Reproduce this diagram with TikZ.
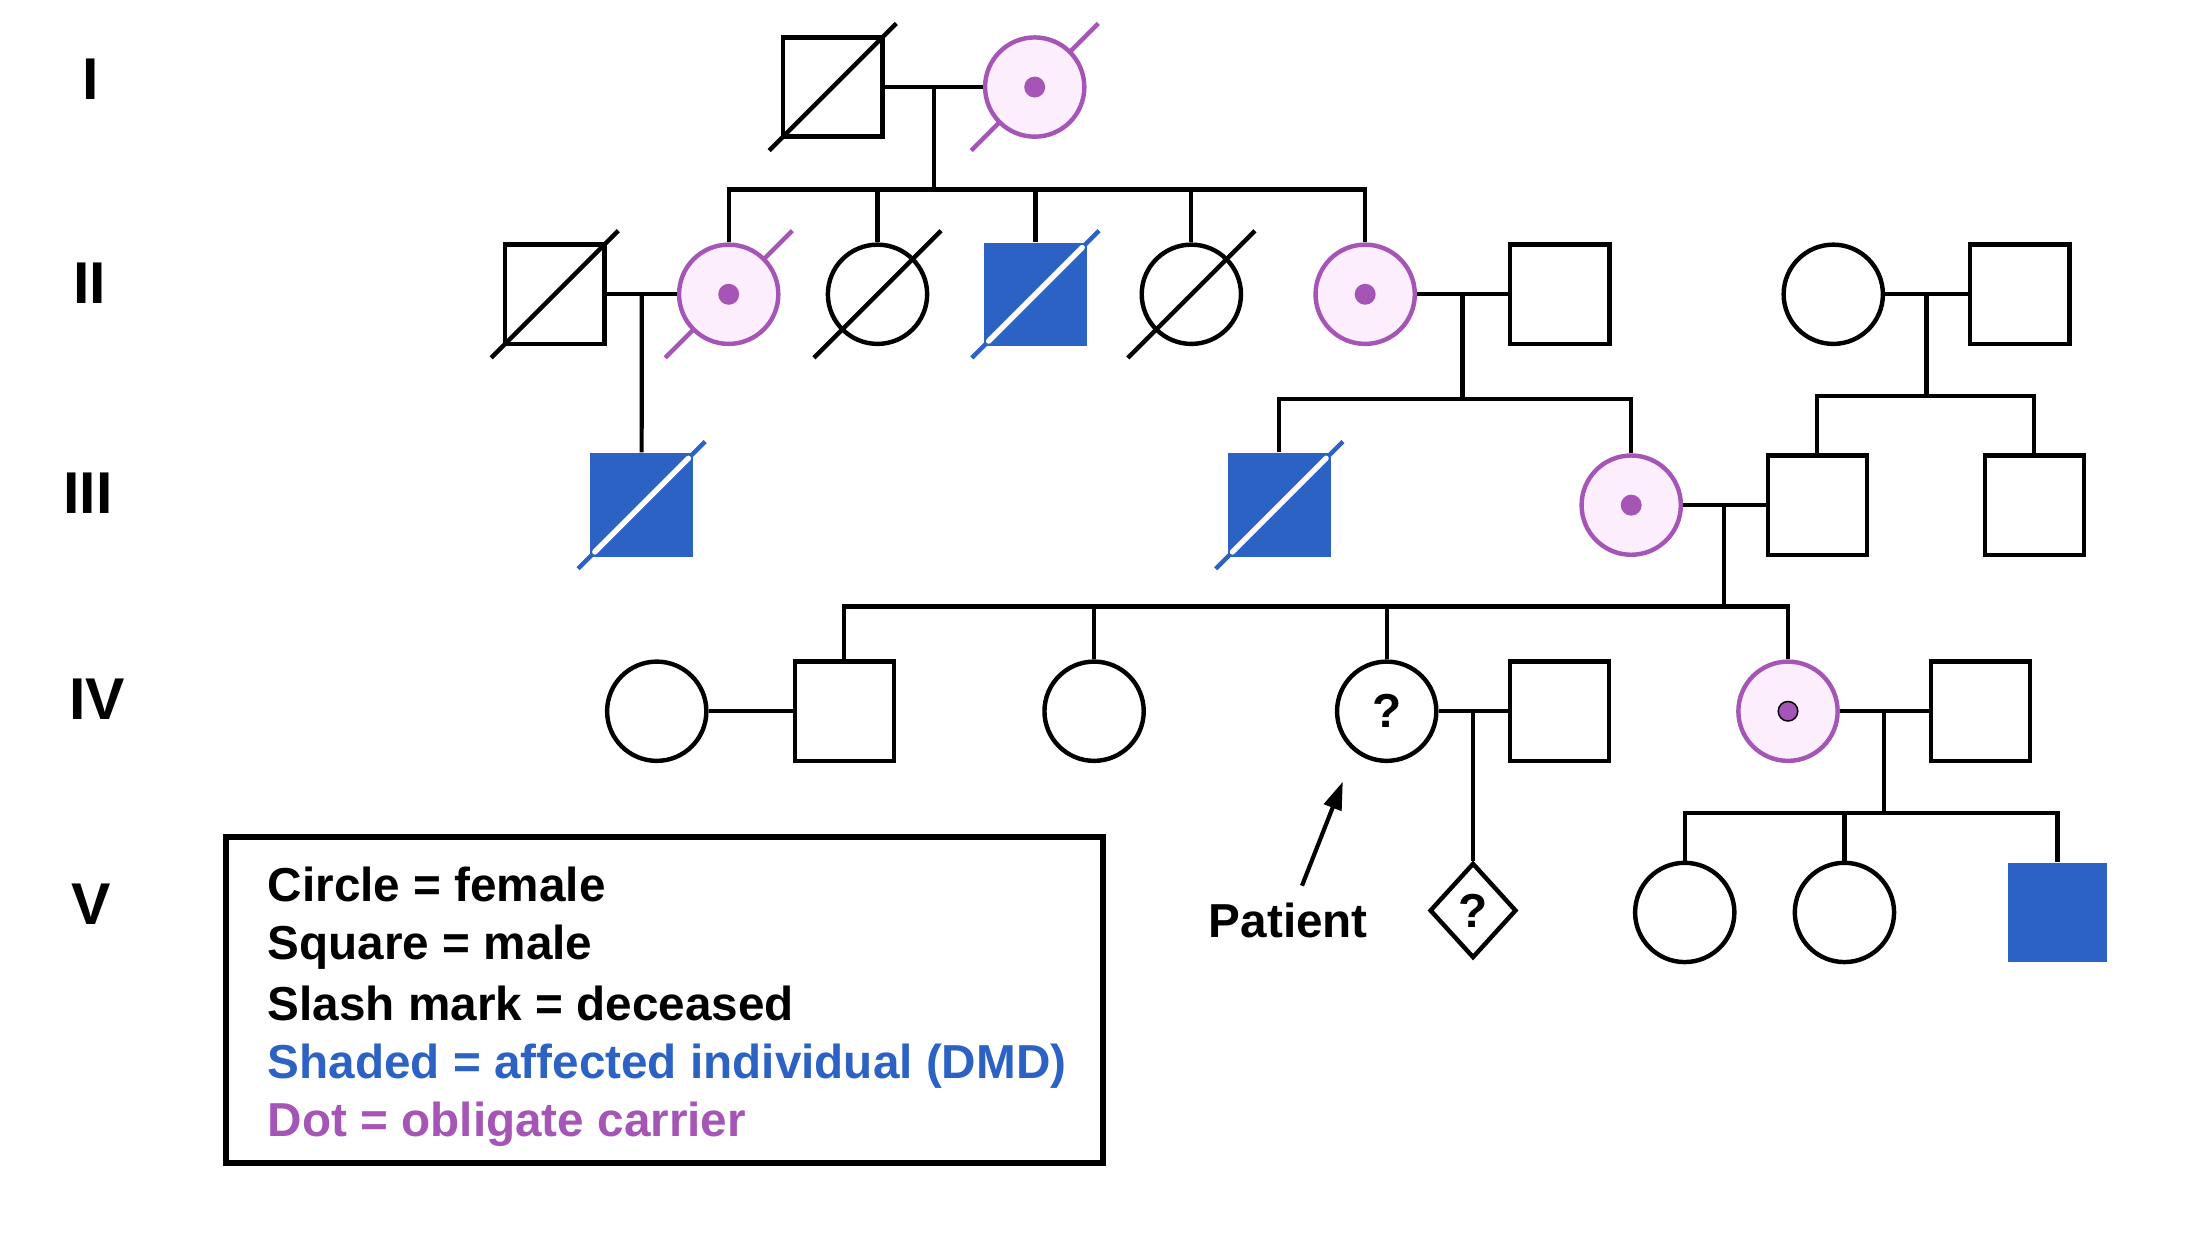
\documentclass[tikz,border=0pt]{standalone}
\usepackage{fontspec}
\setmainfont{Liberation Sans}
\usetikzlibrary{calc,shapes.geometric,arrows.meta,backgrounds}
\definecolor{dmdblue}{RGB}{43,98,196}
\definecolor{carrierpurple}{RGB}{165,85,181}
\definecolor{carrierpink}{RGB}{252,238,252}
\def\deadmark[#1](#2)(#3){\draw[#1] ($(#2)+(-#3,#3)$) -- ($(#2)+(#3,-#3)$);}
\def\carrierdot(#1){\fill[carrierpurple] (#1) circle (0.075cm);}
\tikzset{
	male/.style={draw, line width=0.9pt, minimum size=0.71cm, inner sep=0pt},
	female/.style={male, circle},
	carrier/.style={female, draw=carrierpurple, fill=carrierpink},
	affected/.style={fill=dmdblue, minimum size=0.74cm, inner sep=0pt},
	unknown/.style={draw, diamond, line width=0.9pt, minimum width=0.62cm, minimum height=0.68cm, inner sep=0pt},
	link/.style={line width=0.85pt},
	gen/.style={font=\fontsize{12}{14}\selectfont\bfseries},
	txt/.style={font=\fontsize{9.7}{11.6}\selectfont\bfseries},
}

\begin{document}
\begin{tikzpicture}[x=0.01cm, y=-0.01cm]
			%%%%% START %%%%%
			\useasboundingbox (0,0) rectangle (1568,900);
			
			% generations
			\node[gen] (gI) at (65,56.6) {I};
			\node[gen] (gII) at (64,203) {II};
			\node[gen] (gIII) at (63,353) {III};
			\node[gen] (gIV) at (69.5,500.5) {IV};
			\node[gen] (gV) at (65,647) {V};
			
			% I
			\node[male] (I1) at (596,62.3) {};
			\node[carrier] (I2) at (740.5,62.3) {};
			
			% II
			\node[male] (II1) at (397,210.6) {};
			\node[carrier] (II2) at (521.5,210.6) {};
			\node[female] (II3) at (628,210.6) {};
			\node[affected] (II4) at (741,210.6) {};
			\node[female] (II5) at (852.6,210.6) {};
			\node[carrier] (II6) at (977,210.6) {};
			\node[male] (II7) at (1116.3,210.6) {};
			\node[female] (II8) at (1312,210.6) {};
			\node[male] (II9) at (1445.4,210.6) {};
			
			% III
			\node[affected] (III1) at (459.2,361.5) {};
			\node[affected] (III2) at (915.5,361.5) {};
			\node[carrier] (III3) at (1167.4,361.5) {};
			\node[male] (III4) at (1300.6,361.5) {};
			\node[male] (III5) at (1455.9,361.5) {};
			
			% IV
			\node[female] (IV1) at (470,509) {};
			\node[male] (IV2) at (604.3,509) {};
			\node[female] (IV3) at (783,509) {};
			\node[female, txt] (IV4) at (992.4,509) {?};
			\node[male] (IV5) at (1116,509) {};
			\node[carrier] (IV6) at (1279.6,509) {};
			\node[male] (IV7) at (1417.4,509) {};
			
			% V
			\node[unknown, txt] (V1) at (1054.2,651.6) {?};
			\node[female] (V2) at (1205.7,653) {};
			\node[female] (V3) at (1320,653) {};
			\node[affected, minimum size=0.71cm] (V4) at (1472.5,653) {};
			
			% carrier dots
			\carrierdot(I2)
			\carrierdot(II2)
			\carrierdot(II6)
			\carrierdot(III3)
			\filldraw[fill=carrierpurple, draw=black, line width=0.3pt] (IV6) circle (0.07cm);
			
			% deceased
			\deadmark[line width=0.9pt](I1)(45.5)
			\deadmark[line width=0.9pt](II1)(45.5)
			\deadmark[line width=0.9pt](II3)(45.5)
			\deadmark[line width=0.9pt](II5)(45.5)
			\begin{pgfonlayer}{background}
				\deadmark[carrierpurple, line width=0.9pt](I2)(45.5)
				\deadmark[carrierpurple, line width=0.9pt](II2)(45.5)
			\end{pgfonlayer}
			\foreach \n in {II4,III1,III2} {
				\deadmark[dmdblue, line width=0.9pt](\n)(45.5)
				\deadmark[white, line width=1.1pt, line cap=round](\n)(33.5)
			}
			
			% I -> II
			\draw[link] (I1) -- (I2);
			\coordinate (mI) at ($(I1.east)!0.5!(I2.west)$);
			\coordinate (sI) at ($(mI)+(0,73.3)$);
			\draw[link] (mI) -- (sI);
			\draw[link] (II2.north) |- (sI) -| (II6.north);
			\foreach \n in {II3,II4,II5} \draw[link] (\n.north) -- (\n.north |- sI);
			
			% II -> III
			\draw[link] (II1) -- (II2);
			\coordinate (mII) at ($(II1.east)!0.5!(II2.west)$);
			\draw[link] (mII) -- (III1.north);
			
			\draw[link] (II6) -- (II7);
			\coordinate (mIIb) at ($(II6.east)!0.5!(II7.west)$);
			\coordinate (sIIb) at ($(mIIb)+(0,75)$);
			\draw[link] (mIIb) -- (sIIb);
			\draw[link] (III2.north) |- (sIIb) -| (III3.north);
			
			\draw[link] (II8) -- (II9);
			\coordinate (mIIc) at ($(II8.east)!0.5!(II9.west)$);
			\coordinate (sIIc) at ($(mIIc)+(0,73)$);
			\draw[link] (mIIc) -- (sIIc);
			\draw[link] (III4.north) |- (sIIc) -| (III5.north);
			
			% III -> IV
			\draw[link] (III3) -- (III4);
			\coordinate (mIII) at ($(III3.east)!0.5!(III4.west)$);
			\coordinate (sIII) at ($(mIII)+(0,72.5)$);
			\draw[link] (mIII) -- (sIII);
			\draw[link] (IV2.north) |- (sIII) -| (IV6.north);
			\foreach \n in {IV3,IV4} \draw[link] (\n.north) -- (\n.north |- sIII);
			
			% IV -> V
			\draw[link] (IV1) -- (IV2);
			\draw[link] (IV4) -- (IV5);
			\coordinate (mIVb) at ($(IV4.east)!0.5!(IV5.west)$);
			\draw[link] (mIVb) -- (mIVb |- V1.north);
			
			\draw[link] (IV6) -- (IV7);
			\coordinate (mIVc) at ($(IV6.east)!0.5!(IV7.west)$);
			\coordinate (sIV) at ($(mIVc)+(0,73)$);
			\draw[link] (mIVc) -- (sIV);
			\draw[link] (V2.north) |- (sIV) -| (V4.north);
			\draw[link] (V3.north) -- (V3.north |- sIV);
			
			% patient
			\node[txt, anchor=base] (patient) at (922,671) {Patient};
			\coordinate (tip) at (961,559.4);
			\draw[link, -{Triangle[length=0.2cm, width=0.13cm]}] (patient) -- (tip);
			
			% key
			\node[draw, line width=1.2pt, minimum width=6.27cm, minimum height=2.33cm, inner sep=0pt] (legend) at (475.5,715.5) {};
			\foreach \y/\c/\t [count=\i] in {645.5/black/Circle = female, 687/black/Square = male, 730/black/Slash mark = deceased, 771.5/dmdblue/Shaded = affected individual (DMD), 813.6/carrierpurple/Dot = obligate carrier}
				\node[txt, text=\c, anchor=base west, inner sep=0pt] (key\i) at (191,\y) {\t};
			
			%%%%% END %%%%%
\end{tikzpicture}
\end{document}
